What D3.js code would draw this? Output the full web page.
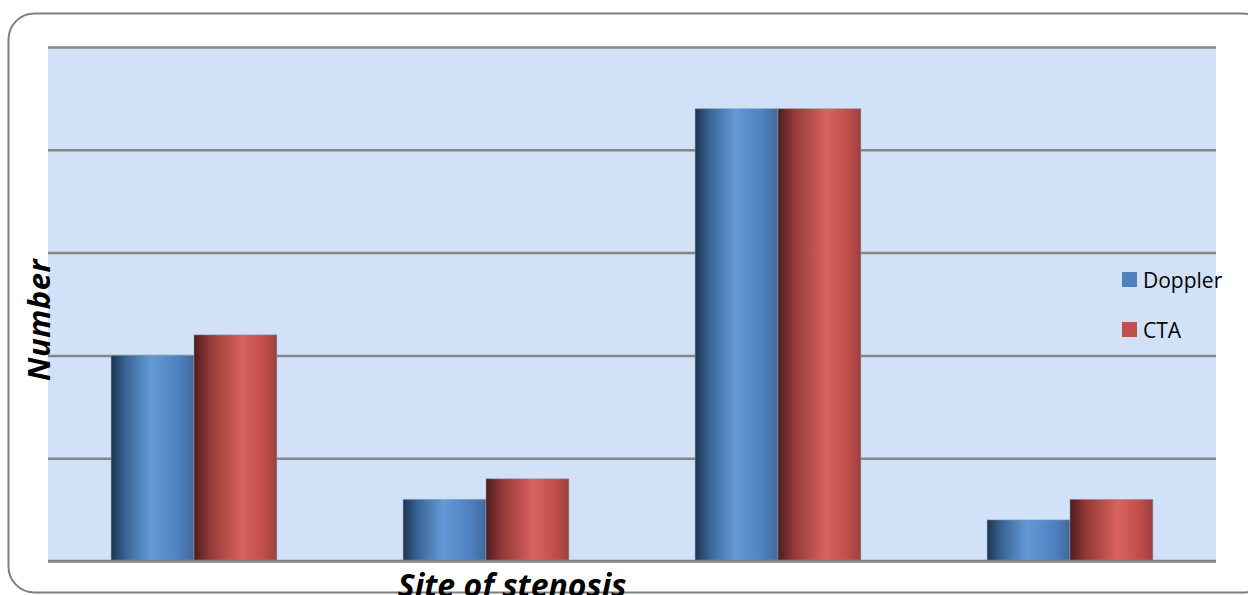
<!DOCTYPE html>
<html>
<head>
<meta charset="utf-8">
<script src="https://cdn.jsdelivr.net/npm/d3@7"></script>
<style>
  body { margin: 0; background: #fff; }
  svg { display: block; font-family: "Open Sans", "Liberation Sans", sans-serif; }
</style>
</head>
<body>
<div id="chart"></div>
<script>
// data (category names are not shown in the original)
const categories = ['Site 1', 'Site 2', 'Site 3', 'Site 4'];
const seriesNames = ['Doppler', 'CTA'];
const doppler = [10, 3, 22, 2];
const cta = [11, 4, 22, 3];
const yTicks = [0, 5, 10, 15, 20, 25];

const W = 1248, H = 595;
const margin = { top: 47, right: 32, bottom: 34, left: 48 };
const width = W - margin.left - margin.right;
const height = H - margin.top - margin.bottom;

const svg = d3.select('#chart').append('svg')
  .attr('width', W)
  .attr('height', H);

// gradients for the cylinder-ish bar shading
const defs = svg.append('defs');
const grads = {
  Doppler: [['0%', '#1e3550'], ['18%', '#3a6597'], ['48%', '#6399d6'], ['80%', '#4f83c3'], ['100%', '#41699a']],
  CTA: [['0%', '#4e1b1b'], ['20%', '#943a39'], ['58%', '#d9625e'], ['85%', '#c04c4a'], ['100%', '#994141']]
};
Object.entries(grads).forEach(([k, stops]) => {
  const g = defs.append('linearGradient').attr('id', 'g-' + k)
    .attr('x1', '0%').attr('x2', '100%').attr('y1', '0%').attr('y2', '0%');
  stops.forEach(s => g.append('stop').attr('offset', s[0]).attr('stop-color', s[1]));
});

// outer rounded frame
svg.append('rect')
  .attr('x', 8.5).attr('y', 13.5)
  .attr('width', 1260).attr('height', 579)
  .attr('rx', 26)
  .attr('fill', 'none')
  .attr('stroke', '#7f7f7f')
  .attr('stroke-width', 2);

const g = svg.append('g').attr('transform', `translate(${margin.left},${margin.top})`);

const x = d3.scaleBand().domain(categories).range([0, width]).paddingInner(0).paddingOuter(0);
const x1 = d3.scaleBand().domain(seriesNames).range([0, x.bandwidth()]).paddingInner(0).paddingOuter(0.7607);
const y = d3.scaleLinear().domain([0, 25]).range([height, 0]);

// plot background
g.append('rect')
  .attr('width', width).attr('height', height)
  .attr('fill', '#d1e2f8');

// gridlines
g.append('g')
  .call(d3.axisLeft(y).tickValues(yTicks).tickSize(-width).tickFormat(''))
  .call(a => a.select('.domain').remove())
  .selectAll('line')
  .attr('stroke', '#868686')
  .attr('stroke-width', 2.5);

const rows = categories.map((c, i) => ({ cat: c, vals: [
  { key: 'Doppler', v: doppler[i] },
  { key: 'CTA', v: cta[i] }
] }));

g.selectAll('.grp').data(rows).join('g')
  .attr('class', 'grp')
  .attr('transform', d => `translate(${x(d.cat)},0)`)
  .selectAll('rect').data(d => d.vals).join('rect')
  .attr('x', d => x1(d.key))
  .attr('y', d => y(d.v))
  .attr('width', x1.bandwidth())
  .attr('height', d => y(0) - y(d.v))
  .attr('fill', d => `url(#g-${d.key})`)
  .attr('stroke', 'rgba(150,160,180,0.6)')
  .attr('stroke-width', 0.8);

// bottom axis line
g.append('line')
  .attr('x1', 0).attr('x2', width)
  .attr('y1', y(0)).attr('y2', y(0))
  .attr('stroke', '#868686').attr('stroke-width', 2.5);

// legend
const legendColors = { Doppler: '#4f81bd', CTA: '#c0504d' };
const lg = svg.append('g').attr('transform', 'translate(1122,272)');
seriesNames.forEach((s, i) => {
  const row = lg.append('g').attr('transform', `translate(0,${i * 50})`);
  row.append('rect').attr('width', 15).attr('height', 15).attr('fill', legendColors[s]);
  row.append('text').attr('x', 21).attr('y', 16)
    .attr('font-size', 21).attr('fill', '#000').text(s);
});

// axis titles
svg.append('text')
  .attr('transform', 'translate(50,320) rotate(-90)')
  .attr('text-anchor', 'middle')
  .attr('font-size', 31).attr('font-weight', 'bold').attr('font-style', 'italic')
  .attr('letter-spacing', 0.5)
  .text('Number');

svg.append('text')
  .attr('x', 512).attr('y', 597)
  .attr('text-anchor', 'middle')
  .attr('font-size', 32).attr('font-weight', 'bold').attr('font-style', 'italic')
  .text('Site of stenosis');
</script>
</body>
</html>
